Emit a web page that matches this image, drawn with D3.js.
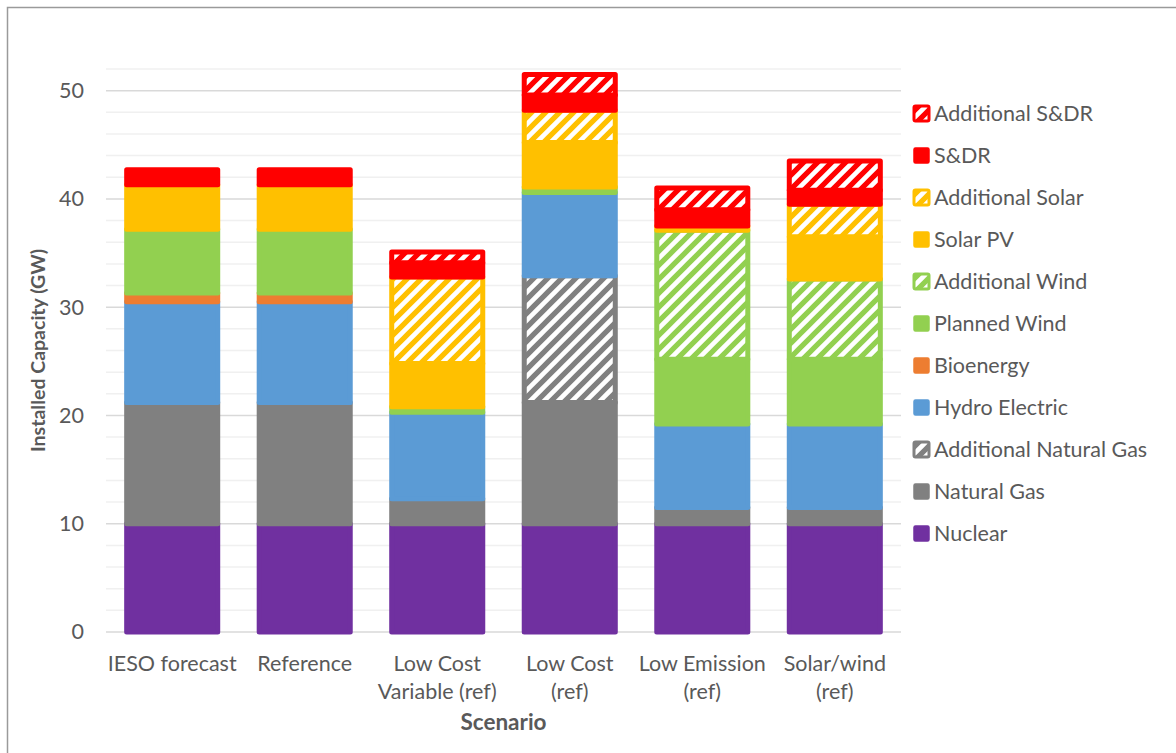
<!DOCTYPE html>
<html>
<head>
<meta charset="utf-8">
<script src="https://cdn.jsdelivr.net/npm/d3@7/dist/d3.min.js"></script>
<style>
  html, body { margin: 0; padding: 0; background: #fff; }
  svg { display: block; font-family: Lato, "Open Sans", sans-serif; }
</style>
</head>
<body>
<svg id="chart" width="1176" height="753"></svg>
<script>
// Scenario names (each split into its printed lines)
const scenarios = [
  ["IESO forecast"],
  ["Reference"],
  ["Low Cost", "Variable (ref)"],
  ["Low Cost", "(ref)"],
  ["Low Emission", "(ref)"],
  ["Solar/wind", "(ref)"]
];

// Installed capacity by resource, GW, one value per scenario
const nuclear         = [10.0, 10.0, 10.0, 10.0, 10.0, 10.0];
const naturalGas      = [11.2, 11.2, 2.3, 11.2, 1.5, 1.5];
const additionalGas   = [0, 0, 0, 11.7, 0, 0];
const hydroElectric   = [9.3, 9.3, 8.0, 7.7, 7.7, 7.7];
const bioenergy       = [0.8, 0.8, 0, 0, 0, 0];
const plannedWind     = [5.9, 5.9, 0.5, 0.5, 6.0, 6.0];
const additionalWind  = [0, 0, 0, 0, 11.9, 7.4];
const solarPV         = [4.1, 4.1, 4.0, 4.1, 0.4, 3.9];
const additionalSolar = [0, 0, 8.0, 3.0, 0, 3.0];
const sdr             = [1.4, 1.4, 1.3, 1.4, 1.5, 1.3];
const additionalSdr   = [0, 0, 1.0, 1.9, 2.0, 2.7];

const yTicks = [0, 10, 20, 30, 40, 50];

// Stacking order, bottom to top
const series = [
  { name: "Nuclear",                values: nuclear,         color: "#7030a0", hatch: false },
  { name: "Natural Gas",            values: naturalGas,      color: "#808080", hatch: false },
  { name: "Additional Natural Gas", values: additionalGas,   color: "#808080", hatch: true  },
  { name: "Hydro Electric",         values: hydroElectric,   color: "#5b9bd5", hatch: false },
  { name: "Bioenergy",              values: bioenergy,       color: "#ed7d31", hatch: false },
  { name: "Planned Wind",           values: plannedWind,     color: "#92d050", hatch: false },
  { name: "Additional Wind",        values: additionalWind,  color: "#92d050", hatch: true  },
  { name: "Solar PV",               values: solarPV,         color: "#ffc000", hatch: false },
  { name: "Additional Solar",       values: additionalSolar, color: "#ffc000", hatch: true  },
  { name: "S&DR",                   values: sdr,             color: "#ff0000", hatch: false },
  { name: "Additional S&DR",        values: additionalSdr,   color: "#ff0000", hatch: true  }
];

const svg = d3.select("#chart");
const textColor = "#595959";
const fontSize = 21.5;

// Chart frame
svg.append("rect")
  .attr("x", 7.5).attr("y", 7.5)
  .attr("width", 1200).attr("height", 800)
  .attr("fill", "#fff").attr("stroke", "#9a9a9a").attr("stroke-width", 1.5);

const plot = { left: 106, right: 901, top: 69, bottom: 632 };

const x = d3.scaleBand()
  .domain(d3.range(scenarios.length))
  .range([plot.left, plot.right])
  .paddingInner(0.313)
  .paddingOuter(0.156);

const y = d3.scaleLinear().domain([0, 52]).range([plot.bottom, plot.top]);

// Diagonal hatch patterns, one per colour
const defs = svg.append("defs");
const hatchColors = Array.from(new Set(series.filter(s => s.hatch).map(s => s.color)));
hatchColors.forEach(c => {
  const p = defs.append("pattern")
    .attr("id", "hatch-" + c.slice(1))
    .attr("patternUnits", "userSpaceOnUse")
    .attr("width", 14).attr("height", 14);
  p.append("rect").attr("width", 14).attr("height", 14).attr("fill", "#fff");
  p.append("path")
    .attr("d", "M-3.5,3.5 L3.5,-3.5 M0,14 L14,0 M10.5,17.5 L17.5,10.5")
    .attr("stroke", c).attr("stroke-width", 5.2);
});
const fillOf = s => s.hatch ? `url(#hatch-${s.color.slice(1)})` : s.color;

// Gridlines: minor every 2 GW, major every 10 GW
const minorTicks = d3.range(0, 53, 2).filter(v => v % 10 !== 0);
svg.append("g").selectAll("line").data(minorTicks).join("line")
  .attr("x1", plot.left).attr("x2", plot.right)
  .attr("y1", d => y(d)).attr("y2", d => y(d))
  .attr("stroke", "#f0f0f0").attr("stroke-width", 1.5);
svg.append("g").selectAll("line").data(yTicks).join("line")
  .attr("x1", plot.left).attr("x2", plot.right)
  .attr("y1", d => y(d)).attr("y2", d => y(d))
  .attr("stroke", "#d9d9d9").attr("stroke-width", 1.5);

// Y axis labels
const yAxis = d3.axisLeft(y).tickValues(yTicks).tickSize(0).tickPadding(0).tickFormat(d3.format("d"));
const yg = svg.append("g").attr("transform", `translate(84,0)`).call(yAxis);
yg.select(".domain").remove();
yg.selectAll("text").attr("fill", textColor).attr("font-size", fontSize)
  .attr("font-family", "Lato, 'Open Sans', sans-serif");

// Stacked segments
const stack = d3.stack()
  .keys(d3.range(series.length))
  .value((i, k) => series[k].values[i])(d3.range(scenarios.length));

const bars = svg.append("g");
stack.forEach((layer, k) => {
  const s = series[k];
  bars.append("g").selectAll("rect")
    .data(layer.map((d, i) => ({ d, i })).filter(o => o.d[1] - o.d[0] > 0))
    .join("rect")
    .attr("x", o => x(o.i))
    .attr("width", x.bandwidth())
    .attr("y", o => y(o.d[1]))
    .attr("height", o => y(o.d[0]) - y(o.d[1]))
    .attr("fill", fillOf(s))
    .attr("stroke", s.color)
    .attr("stroke-width", 5)
    .attr("stroke-linejoin", "round");
});

// X axis category labels
const xg = svg.append("g");
scenarios.forEach((lines, i) => {
  const cx = x(i) + x.bandwidth() / 2;
  const t = xg.append("text")
    .attr("text-anchor", "middle")
    .attr("fill", textColor).attr("font-size", fontSize);
  lines.forEach((ln, j) => {
    t.append("tspan").attr("x", cx).attr("y", 670.5 + j * 28).text(ln);
  });
});

// Axis titles
svg.append("text")
  .attr("x", (plot.left + plot.right) / 2).attr("y", 730)
  .attr("text-anchor", "middle").attr("font-weight", "bold")
  .attr("font-size", 22.5).attr("fill", textColor)
  .text("Scenario");
svg.append("text")
  .attr("transform", `translate(45,${(plot.top + plot.bottom) / 2}) rotate(-90)`)
  .attr("text-anchor", "middle").attr("font-weight", "bold")
  .attr("font-size", 19.5).attr("fill", textColor)
  .text("Installed Capacity (GW)");

// Legend, top to bottom in reverse stacking order
const legendItems = series.slice().reverse();
const lg = svg.append("g").attr("transform", "translate(913,0)");
legendItems.forEach((s, j) => {
  const cy = 113.5 + j * 42;
  lg.append("rect")
    .attr("x", 1).attr("y", cy - 7.5)
    .attr("width", 15).attr("height", 15)
    .attr("rx", 1.5)
    .attr("fill", fillOf(s))
    .attr("stroke", s.color).attr("stroke-width", s.hatch ? 3 : 1.5);
  lg.append("text")
    .attr("x", 21).attr("y", cy + 7.5)
    .attr("fill", textColor).attr("font-size", fontSize)
    .text(s.name);
});
</script>
</body>
</html>
